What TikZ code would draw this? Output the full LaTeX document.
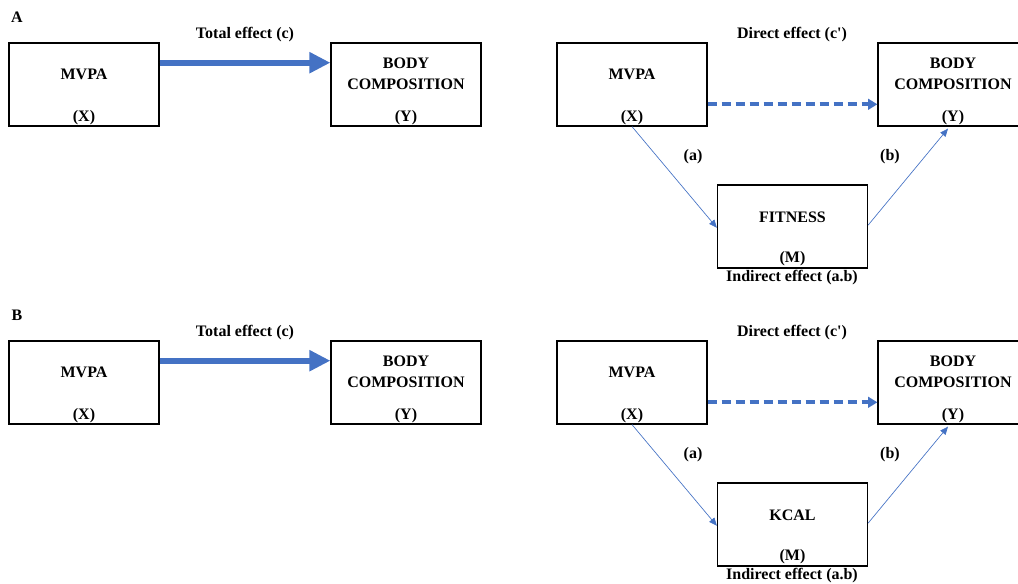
\documentclass[tikz,border=0pt]{standalone}
\usepackage{fontspec}
\setmainfont{Liberation Serif}[Ligatures=TeXOff]
\usetikzlibrary{arrows.meta}
\definecolor{eblue}{HTML}{4472C4}
\newcommand\mypanel[4]{%
\begin{scope}[shift={(0,#4)}]
\node[txt] (#1let) at (17,17) {#2};
% left: total effect
\node[box] (#1x1) at (84,84.5) {};
\node[txt] (#1x1t) at (84,74.5) {MVPA};
\node[txt] (#1x1l) at (84,118) {(X)};
\node[box] (#1y1) at (406,84.5) {};
\node[txt,align=center] (#1y1t) at (406,74) {BODY\\COMPOSITION};
\node[txt] (#1y1l) at (406,118) {(Y)};
\node[txt] (#1tot) at (245,35) {Total effect (c)};
\draw[totalarrow] ([yshift=16.35pt]#1x1.east) -- ([yshift=16.35pt]#1y1.west);
% right: mediation
\node[box] (#1x2) at (632,84.5) {};
\node[txt] (#1x2t) at (632,74.5) {MVPA};
\node[txt] (#1x2l) at (632,118) {(X)};
\node[box] (#1y2) at (953,84.5) {};
\node[txt,align=center] (#1y2t) at (953,74) {BODY\\COMPOSITION};
\node[txt] (#1y2l) at (953,118) {(Y)};
\node[box] (#1m) at (792.5,226.5) {};
\node[txt] (#1mt) at (792.5,217.5) {#3};
\node[txt] (#1ml) at (792.5,259) {(M)};
\node[txt] (#1dir) at (792,35) {Direct effect (c')};
\node[txt] (#1a) at (693,157) {(a)};
\node[txt] (#1b) at (890,157) {(b)};
\node[txt] (#1ind) at (792,278) {Indirect effect (a.b)};
\draw[directarrow] ([yshift=-14.85pt]#1x2.east) -- ([yshift=-14.85pt]#1y2.west);
\draw[patharrow] (#1x2.south) -- ([yshift=-1pt]#1m.west);
\draw[patharrow] ([yshift=1pt]#1m.east) -- ([xshift=-3.75pt,yshift=-1.5pt]#1y2.south);
\end{scope}}
\begin{document}
\begin{tikzpicture}[x=0.75pt,y=-0.75pt,
 box/.style={draw=black,line width=0.9pt,minimum width=112.5pt,minimum height=62.25pt,inner sep=0pt},
 txt/.style={font=\bfseries\fontsize{12}{15.75}\selectfont,inner sep=0pt,anchor=center},
 totalarrow/.style={draw=eblue,line width=4.5pt,-{Triangle[length=15.75pt,width=15pt]},fill=eblue},
 directarrow/.style={draw=eblue,line width=2.8pt,dash pattern=on 6.75pt off 3.75pt,-{Triangle[length=7pt,width=8pt]}},
 patharrow/.style={draw=eblue,line width=0.5pt,-{Triangle[length=6pt,width=5pt]}}]
\useasboundingbox (0,0) rectangle (1018,584);
\mypanel{A}{A}{FITNESS}{0}
\mypanel{B}{B}{KCAL}{298}
\end{tikzpicture}
\end{document}
